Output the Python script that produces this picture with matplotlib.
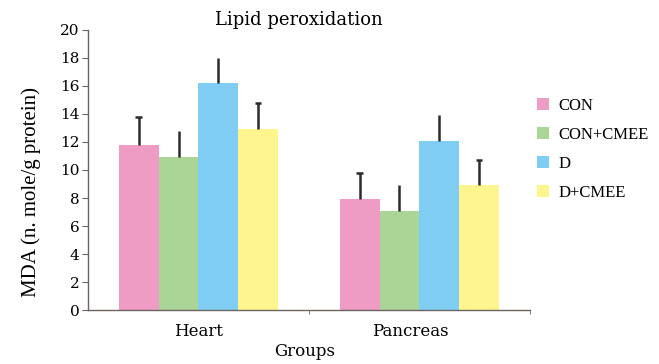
import matplotlib.pyplot as plt
import numpy as np

plt.rcParams['font.family'] = ['DejaVu Serif']

groups = ["Heart", "Pancreas"]
series = ["CON", "CON+CMEE", "D", "D+CMEE"]
colors = ["#EE9CC3", "#AAD597", "#7FCDF2", "#FFF58E"]
means = {
    "CON": [11.8, 7.9],
    "CON+CMEE": [10.9, 7.1],
    "D": [16.2, 12.1],
    "D+CMEE": [12.9, 8.9],
}
errs = {
    "CON": [2.0, 1.9],
    "CON+CMEE": [1.9, 1.8],
    "D": [1.8, 1.8],
    "D+CMEE": [1.9, 1.8],
}
# only some of the error bars have a cap in the original
capped = {"CON": True, "CON+CMEE": False, "D": False, "D+CMEE": True}

fig = plt.figure(figsize=(6.59, 3.64), dpi=100)
ax = fig.add_axes([0.1335, 0.148, 0.6705, 0.770])

x = np.arange(len(groups)) + 0.5
w = 0.18
for i, s in enumerate(series):
    pos = x + (i - 1.5) * w
    m = np.array(means[s])
    top = m + np.array(errs[s])
    ax.bar(pos, m, w, color=colors[i], label=s, zorder=2)
    ax.vlines(pos, m, top, color="#2b2b2b", lw=1.8, zorder=3)
    if capped[s]:
        ax.hlines(top, pos - 0.015, pos + 0.015, color="#2b2b2b", lw=1.8, zorder=3)

ax.set_xlim(0, 2)
ax.set_ylim(0, 20)
ax.set_yticks(range(0, 21, 2))
# "Pancreas" sits a little left of its group centre in the original
ax.set_xticks(x - np.array([0.0, 0.04]))
ax.set_xticklabels(groups)
ax.set_xticks([1, 2], minor=True)
ax.tick_params(axis="x", which="major", length=0, labelsize=12, pad=9)
ax.tick_params(axis="x", which="minor", length=3, color="#6b6460")
ax.tick_params(axis="y", length=4, labelsize=11, color="#6b6460", pad=2)
for sp in ["top", "right"]:
    ax.spines[sp].set_visible(False)
for sp in ["left", "bottom"]:
    ax.spines[sp].set_color("#6b6460")
    ax.spines[sp].set_linewidth(1.0)

fig.text(0.047, 0.473, "MDA (n. mole/g protein)", fontsize=15, rotation=90,
         ha="center", va="center", family="Liberation Serif")
fig.text(0.463, 0.033, "Groups", fontsize=12, ha="center", va="center")
fig.text(0.453, 0.945, "Lipid peroxidation", fontsize=13, ha="center", va="center")

ax.legend(loc="upper left", bbox_to_anchor=(0.982, 0.81), frameon=False,
          prop={"family": "Liberation Serif", "size": 12},
          handlelength=0.7, handleheight=0.7,
          handletextpad=0.6, labelspacing=0.78)

fig.savefig("out.png", dpi=100)
